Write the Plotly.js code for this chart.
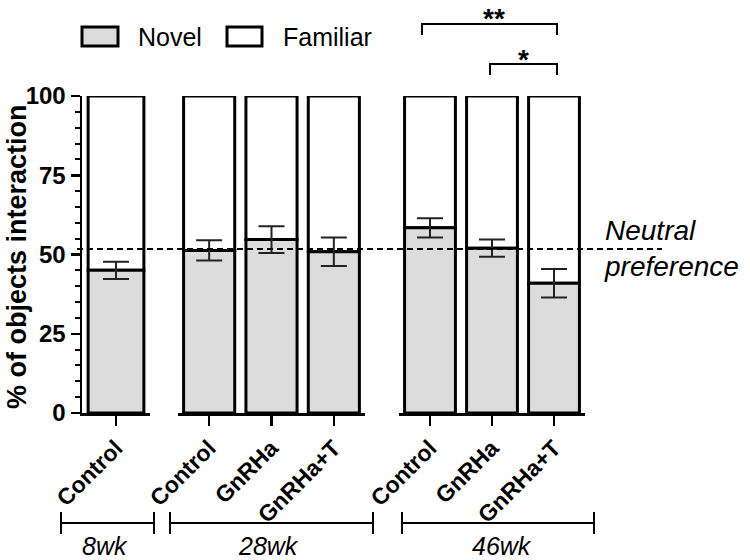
<!DOCTYPE html>
<html>
<head>
<meta charset="utf-8">
<script src="https://cdn.plot.ly/plotly-3.0.1.min.js"></script>
<style>
  html, body { margin: 0; padding: 0; background: #fff; }
  #chart { width: 750px; height: 560px; }
</style>
</head>
<body>
<div id="chart"></div>
<script>
// values (% of object interaction, mean ± SEM)
const groups = ["8wk", "28wk", "46wk"];
const cat8wk = ["Control"];
const cat28wk = ["Control", "GnRHa", "GnRHa+T"];
const cat46wk = ["Control", "GnRHa", "GnRHa+T"];

const novel8wk = [45.0];
const novel28wk = [51.3, 54.7, 50.9];
const novel46wk = [58.4, 52.0, 40.9];

const familiar8wk = [55.0];
const familiar28wk = [48.7, 45.3, 49.1];
const familiar46wk = [41.6, 48.0, 59.1];

const err8wk = [2.7];
const err28wk = [3.2, 4.2, 4.5];
const err46wk = [3.0, 2.7, 4.5];

const neutralLevel = 51.7;
const sigLabels = ["**", "*"];

const FONT = "Liberation Sans, Arial, sans-serif";
const NOVEL_FILL = "#dcdcdc";
const OUTLINE = { color: "#000", width: 3 };

function barPair(xref, cats, novel, familiar, err) {
  const familiarTrace = {
    type: "bar",
    x: cats,
    y: familiar,
    base: novel,
    xaxis: xref,
    yaxis: "y",
    marker: { color: "#fff", line: OUTLINE },
    showlegend: false,
    hoverinfo: "skip"
  };
  const novelTrace = {
    type: "bar",
    x: cats,
    y: novel,
    xaxis: xref,
    yaxis: "y",
    marker: { color: NOVEL_FILL, line: OUTLINE },
    error_y: { type: "data", array: err, visible: true, color: "#222", thickness: 2, width: 13 },
    showlegend: false,
    hoverinfo: "skip"
  };
  return [familiarTrace, novelTrace];
}

const traces = [
  ...barPair("x", cat8wk, novel8wk, familiar8wk, err8wk),
  ...barPair("x2", cat28wk, novel28wk, familiar28wk, err28wk),
  ...barPair("x3", cat46wk, novel46wk, familiar46wk, err46wk)
];

const xaxisBase = {
  type: "category",
  anchor: "y",
  showline: true,
  linecolor: "#000",
  linewidth: 2.5,
  ticks: "outside",
  ticklen: 10,
  tickwidth: 2.5,
  tickcolor: "#000",
  tickangle: -45,
  tickfont: { family: FONT, size: 23, color: "#000", weight: "bold" },
  showgrid: false,
  zeroline: false
};

// paper coords: x 0 -> 82px, 1 -> 585px ; y 0 -> 413px, 1 -> 96px
const px = (v) => (v - 82) / 503;
const py = (v) => (413 - v) / 317;

const shapes = [];
const annotations = [];

// neutral preference line
shapes.push({
  type: "line", xref: "paper", yref: "y",
  x0: px(77), x1: px(662), y0: neutralLevel, y1: neutralLevel,
  line: { color: "#000", width: 2, dash: "6px,4px" }
});
annotations.push({
  xref: "paper", yref: "paper", x: px(602), y: py(248),
  xanchor: "left", yanchor: "middle", align: "left", showarrow: false,
  text: "<i>Neutral<br>preference</i>",
  font: { family: FONT, size: 28, color: "#000" }
});

// group brackets under the axis
const groupSpans = [[61, 154, 105], [170, 373, 268], [402, 594, 502]];
groups.forEach((g, i) => {
  const [a, b, c] = groupSpans[i];
  shapes.push({ type: "line", xref: "paper", yref: "paper", x0: px(a), x1: px(b), y0: py(523), y1: py(523), line: { color: "#000", width: 2 } });
  shapes.push({ type: "line", xref: "paper", yref: "paper", x0: px(a), x1: px(a), y0: py(512), y1: py(534), line: { color: "#000", width: 2 } });
  shapes.push({ type: "line", xref: "paper", yref: "paper", x0: px(b), x1: px(b), y0: py(512), y1: py(534), line: { color: "#000", width: 2 } });
  annotations.push({
    xref: "paper", yref: "paper", x: px(c), y: py(546), xanchor: "center", yanchor: "middle",
    showarrow: false, text: "<i>" + g + "</i>", font: { family: FONT, size: 25, color: "#000" }
  });
});

// significance brackets (text box anchored by its top so it stays inside the page)
const sigSpans = [[422, 557, 24, 35, 1], [490, 557, 64, 75, 42]];
sigSpans.forEach(([a, b, yTop, yEnd, yTxt], i) => {
  shapes.push({
    type: "path", xref: "paper", yref: "paper",
    path: `M${px(a)},${py(yEnd)} L${px(a)},${py(yTop)} L${px(b)},${py(yTop)} L${px(b)},${py(yEnd)}`,
    line: { color: "#000", width: 2 }
  });
  annotations.push({
    xref: "paper", yref: "paper", x: px((a + b) / 2 + (i === 0 ? 4 : 0)), y: py(yTxt),
    xanchor: "center", yanchor: "top", showarrow: false,
    text: sigLabels[i], font: { family: FONT, size: 28, color: "#000", weight: "bold" }
  });
});

// legend drawn by hand (Plotly's legend swatches are too small)
const legendItems = [["Novel", NOVEL_FILL, 82, 118, 136], ["Familiar", "#fff", 227, 262, 281]];
legendItems.forEach(([name, fill, x0, x1, tx]) => {
  shapes.push({
    type: "rect", xref: "paper", yref: "paper",
    x0: px(x0), x1: px(x1), y0: py(46), y1: py(27),
    fillcolor: fill, line: { color: "#000", width: 3 }
  });
  annotations.push({
    xref: "paper", yref: "paper", x: px(tx), y: py(37), xanchor: "left", yanchor: "middle",
    showarrow: false, text: name, font: { family: FONT, size: 25, color: "#000" }
  });
});

// y axis title
annotations.push({
  xref: "paper", yref: "paper", x: px(17), y: py(257), xanchor: "center", yanchor: "middle",
  textangle: -90, showarrow: false, text: "% of objects interaction",
  font: { family: FONT, size: 27, color: "#000", weight: "bold" }
});

const layout = {
  width: 750,
  height: 560,
  paper_bgcolor: "#fff",
  plot_bgcolor: "rgba(0,0,0,0)",
  margin: { l: 82, r: 165, t: 96, b: 147 },
  barmode: "overlay",
  bargap: 0.18,
  showlegend: false,
  xaxis: { ...xaxisBase, domain: [0, px(150)] },
  xaxis2: { ...xaxisBase, domain: [px(178), px(365)] },
  xaxis3: { ...xaxisBase, domain: [px(399), 1] },
  yaxis: {
    anchor: "x",
    range: [0, 100],
    tickvals: [0, 25, 50, 75, 100],
    showline: true,
    linecolor: "#000",
    linewidth: 2.5,
    ticks: "outside",
    ticklen: 9,
    tickwidth: 2.5,
    tickcolor: "#000",
    minor: { dtick: 5, ticks: "outside", ticklen: 5, tickwidth: 2, tickcolor: "#000", showgrid: false },
    tickfont: { family: FONT, size: 24, color: "#000", weight: "bold" },
    showgrid: false,
    zeroline: false
  },
  shapes,
  annotations
};

Plotly.newPlot("chart", traces, layout, { displayModeBar: false, staticPlot: true });
</script>
</body>
</html>
